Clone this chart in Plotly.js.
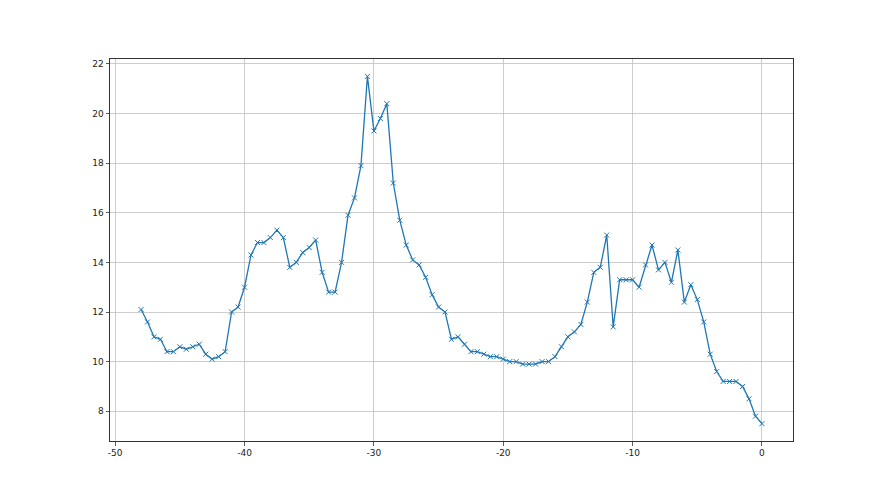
<!DOCTYPE html>
<html>
<head>
<meta charset="utf-8">
<script src="https://cdn.plot.ly/plotly-3.0.1.min.js"></script>
<style>html,body{margin:0;padding:0;background:#fff;}#chart{width:880px;height:495px;}</style>
</head>
<body>
<div id="chart"></div>
<script>
const xStart = -48;
const xStep = 0.5;
const values = [
  12.1, 11.6, 11.0, 10.9, 10.4, 10.4, 10.6, 10.5, 10.6, 10.7,
  10.3, 10.1, 10.2, 10.4, 12.0, 12.2, 13.0, 14.3, 14.8, 14.8,
  15.0, 15.3, 15.0, 13.8, 14.0, 14.4, 14.6, 14.9, 13.6, 12.8,
  12.8, 14.0, 15.9, 16.6, 17.9, 21.5, 19.3, 19.8, 20.4, 17.2,
  15.7, 14.7, 14.1, 13.9, 13.4, 12.7, 12.2, 12.0, 10.9, 11.0,
  10.7, 10.4, 10.4, 10.3, 10.2, 10.2, 10.1, 10.0, 10.0, 9.9,
  9.9, 9.9, 10.0, 10.0, 10.2, 10.6, 11.0, 11.2, 11.5, 12.4,
  13.6, 13.8, 15.1, 11.4, 13.3, 13.3, 13.3, 13.0, 13.9, 14.7,
  13.7, 14.0, 13.2, 14.5, 12.4, 13.1, 12.5, 11.6, 10.3, 9.6,
  9.2, 9.2, 9.2, 9.0, 8.5, 7.8, 7.5
];
const xValues = values.map((v, i) => xStart + i * xStep);
const xTicks = [-50, -40, -30, -20, -10, 0];
const yTicks = [8, 10, 12, 14, 16, 18, 20, 22];

const trace = {
  x: xValues,
  y: values,
  type: 'scatter',
  mode: 'lines+markers',
  line: {color: '#1f77b4', width: 1.3},
  marker: {symbol: 'x-thin', size: 5, color: '#1f77b4', line: {color: '#1f77b4', width: 1}},
  hoverinfo: 'skip'
};

const axisCommon = {
  showline: true,
  mirror: true,
  linecolor: '#333333',
  linewidth: 1,
  ticks: 'outside',
  ticklen: 3.5,
  tickwidth: 0.8,
  tickcolor: '#333333',
  showgrid: true,
  gridcolor: '#c0c0c0',
  gridwidth: 0.8,
  zeroline: false,
  tickfont: {family: 'DejaVu Sans', size: 9, color: '#222222'}
};

const layout = {
  width: 880,
  height: 495,
  margin: {l: 110, r: 87, t: 59, b: 54},
  paper_bgcolor: '#ffffff',
  plot_bgcolor: '#ffffff',
  showlegend: false,
  xaxis: Object.assign({}, axisCommon, {range: [-50.4, 2.4], tickmode: 'array', tickvals: xTicks, ticktext: xTicks.map(String)}),
  yaxis: Object.assign({}, axisCommon, {range: [6.8, 22.2], tickmode: 'array', tickvals: yTicks, ticktext: yTicks.map(String)})
};

Plotly.newPlot('chart', [trace], layout, {displayModeBar: false, staticPlot: true});
</script>
</body>
</html>
